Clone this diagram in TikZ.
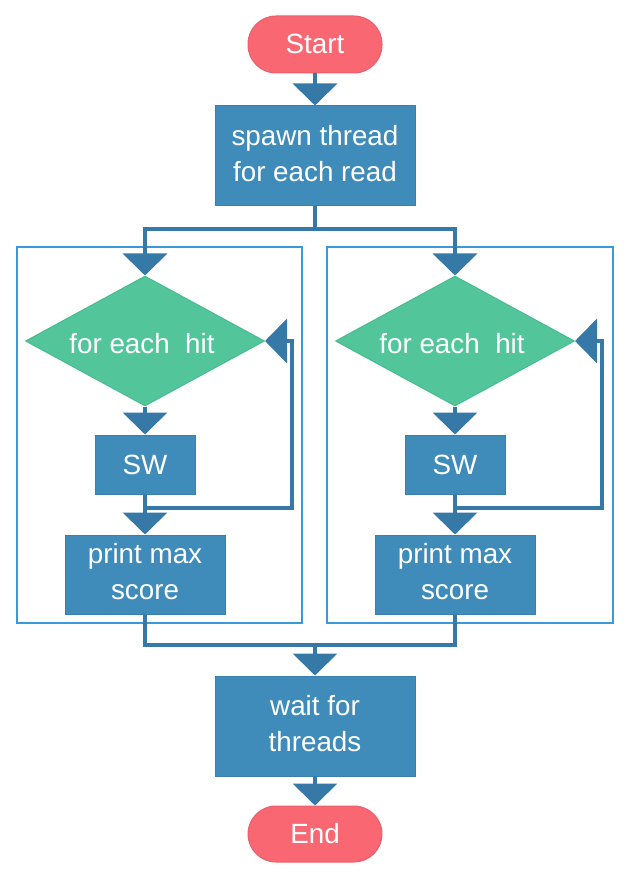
\documentclass[tikz,border=0pt]{standalone}
\usepackage{fontspec}
\setmainfont{Liberation Sans}
\usetikzlibrary{arrows.meta,shapes.geometric}
\definecolor{redfill}{HTML}{F96872}
\definecolor{redline}{HTML}{E8606A}
\definecolor{bluefill}{HTML}{3F8BBA}
\definecolor{blueline}{HTML}{3A80AE}
\definecolor{arrowcol}{HTML}{3779A6}
\definecolor{greenfill}{HTML}{52C69A}
\definecolor{greenline}{HTML}{48BC90}
\definecolor{framecol}{HTML}{3A9AD9}
\tikzset{
  term/.style={fill=redfill, draw=redline, line width=1pt, rounded corners=28pt, minimum width=134pt, minimum height=57pt, inner sep=0pt, text=white, font=\fontsize{27.8}{36}\selectfont},
  proc/.style={fill=bluefill, draw=blueline, line width=1pt, inner sep=0pt, text=white, align=center, font=\fontsize{27.8}{36}\selectfont},
  decis/.style={diamond, fill=greenfill, draw=greenline, line width=1pt, inner sep=0pt, minimum width=239pt, minimum height=130pt, text=white, font=\fontsize{27.8}{36}\selectfont},
  frame/.style={draw=framecol, line width=2pt, inner sep=0pt},
  conn/.style={draw=arrowcol, line width=4pt},
  arr/.style={conn, -{Triangle[width=44pt,length=22pt]}, color=arrowcol},
}
\begin{document}
\begin{tikzpicture}[x=1pt,y=-1pt]
\useasboundingbox (0,0) rectangle (630,874);
% frames
\node[frame, minimum width=285pt, minimum height=376pt] (fl) at (159.5,435) {};
\node[frame, minimum width=286pt, minimum height=376pt] (fr) at (470,435) {};
% nodes
\node[term] (start) at (315,44.5) {\raisebox{1pt}{Start}};
\node[proc, minimum width=200pt, minimum height=100pt] (spawn) at (315,156) {\raisebox{2pt}{\begin{tabular}{@{}c@{}}spawn thread\\for each read\end{tabular}}};
\node[decis] (d1) at (145,341) {\raisebox{-12pt}[0pt][0pt]{\makebox[0pt]{\hspace*{-6pt}for each\ \ hit}}};
\node[decis] (d2) at (455,341) {\raisebox{-12pt}[0pt][0pt]{\makebox[0pt]{\hspace*{-6pt}for each\ \ hit}}};
\node[proc, minimum width=100pt, minimum height=59pt] (sw1) at (145,464.5) {SW};
\node[proc, minimum width=100pt, minimum height=59pt] (sw2) at (455,464.5) {SW};
\node[proc, minimum width=160pt, minimum height=79pt] (p1) at (145,574.5) {\raisebox{1pt}{\begin{tabular}{@{}c@{}}print max\\score\end{tabular}}};
\node[proc, minimum width=160pt, minimum height=79pt] (p2) at (455,574.5) {\raisebox{1pt}{\begin{tabular}{@{}c@{}}print max\\score\end{tabular}}};
\node[proc, minimum width=200pt, minimum height=100pt] (wait) at (315,726) {\raisebox{1pt}{\begin{tabular}{@{}c@{}}wait for\\threads\end{tabular}}};
\node[term, minimum height=56pt] (end) at (315,834) {End};
% coordinates
\coordinate (jl) at (145,229);
\coordinate (jr) at (455,229);
\coordinate (jm) at (315,229);
\coordinate (bl) at (145,645);
\coordinate (br) at (455,645);
\coordinate (bm) at (315,645);
\coordinate (l1) at (292,508);
\coordinate (l2) at (602,508);
% connectors
\draw[arr] (start.south) -- (spawn.north);
\draw[conn] (spawn.south) -- (jm);
\draw[conn] ([xshift=-2pt]jl) -- ([xshift=2pt]jr);
\draw[arr] (jl) -- (d1.north);
\draw[arr] (jr) -- (d2.north);
\draw[arr] (d1.south) -- (sw1.north);
\draw[arr] (d2.south) -- (sw2.north);
\draw[arr] (sw1.south) -- (p1.north);
\draw[arr] (sw2.south) -- (p2.north);
\draw[arr] (l1 -| sw1.south) -- (l1) |- (d1.east);
\draw[arr] (l2 -| sw2.south) -- (l2) |- (d2.east);
\draw[conn] (p1.south) -- (bl);
\draw[conn] (p2.south) -- (br);
\draw[conn] ([xshift=-2pt]bl) -- ([xshift=2pt]br);
\draw[arr] (bm) -- (wait.north);
\draw[arr] (wait.south) -- (end.north);
\end{tikzpicture}
\end{document}
